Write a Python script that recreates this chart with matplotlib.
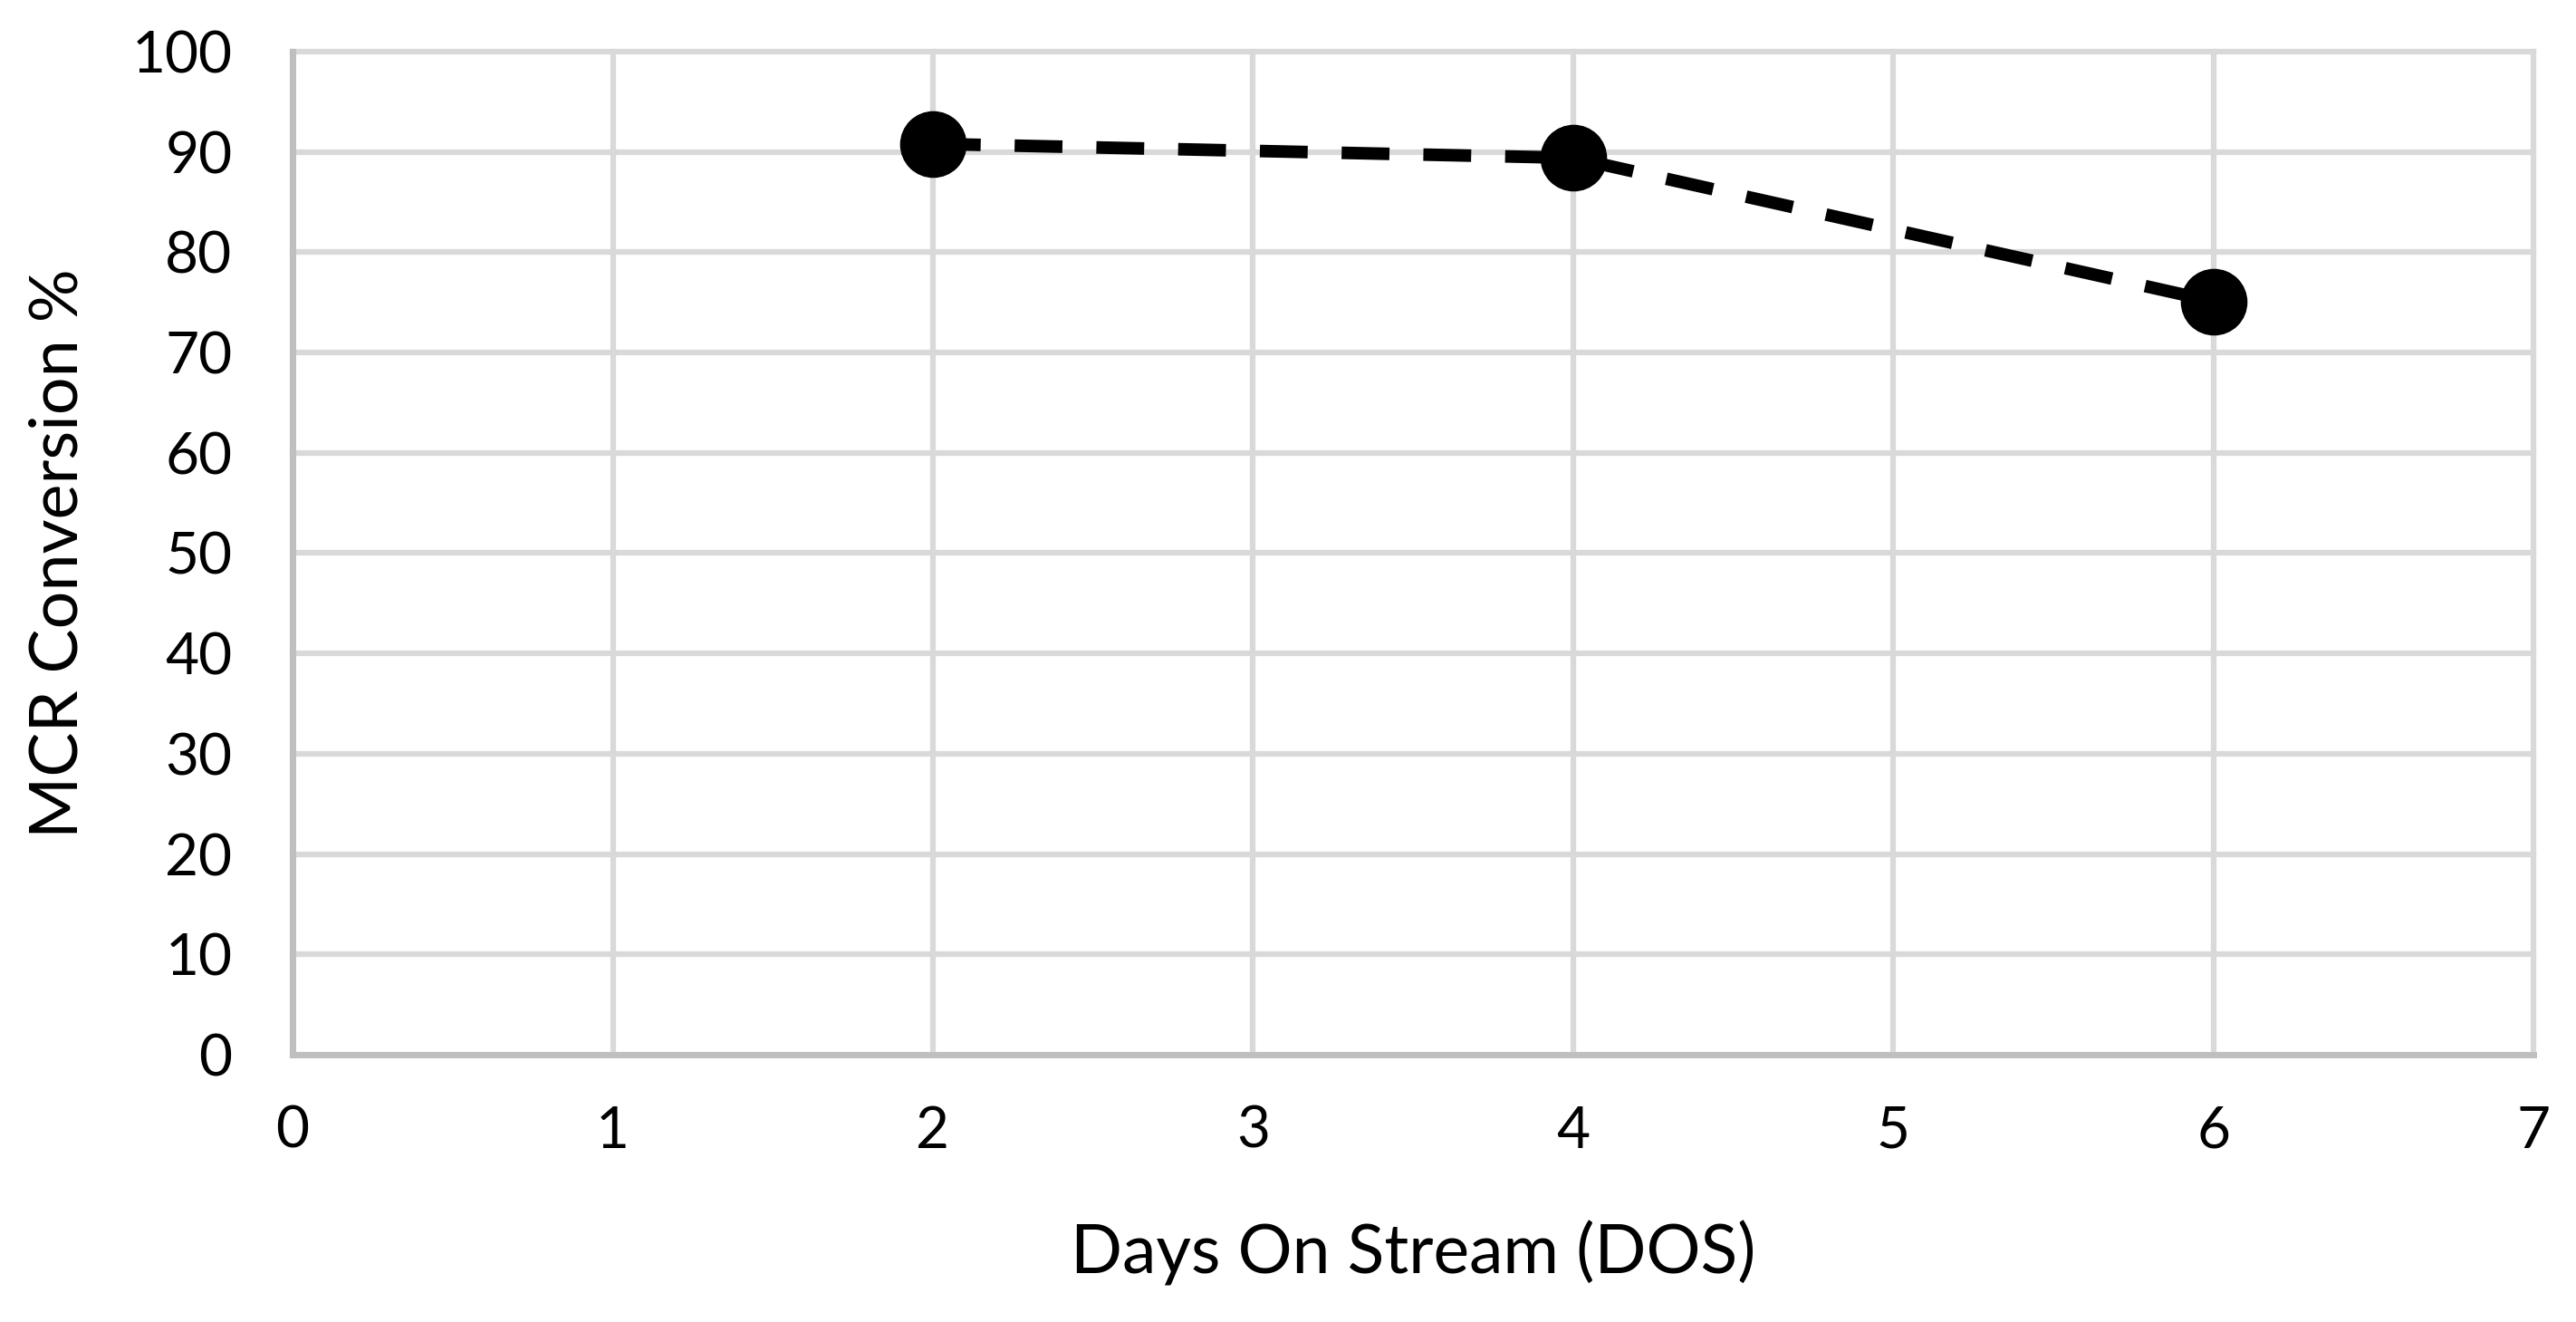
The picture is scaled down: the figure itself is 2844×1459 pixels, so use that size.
import matplotlib
matplotlib.use('Agg')
import matplotlib.pyplot as plt

# 資料
days = [2, 4, 6]
conversion = [90.8, 89.4, 75.1]
xticks = [0, 1, 2, 3, 4, 5, 6, 7]
yticks = [0, 10, 20, 30, 40, 50, 60, 70, 80, 90, 100]

plt.rcParams['font.family'] = ['Lato', 'DejaVu Sans']

fig = plt.figure(figsize=(28.44, 14.59), dpi=100)
ax = fig.add_axes([0.1136, 0.2022, 0.8699, 0.7588])

ax.plot(days, conversion, color='black', linewidth=10, linestyle=(0, (3.8, 2.7)),
        marker='o', markersize=52, zorder=3)

ax.set_xlim(0, 7)
ax.set_ylim(0, 100)
ax.set_xticks(xticks)
ax.set_yticks(yticks)
ax.tick_params(length=0, labelsize=46, pad=40)
ax.tick_params(axis='y', pad=48)

ax.grid(True, color='#d9d9d9', linewidth=4.5, clip_on=False)
ax.set_axisbelow(True)
for s in ['top', 'right']:
    ax.spines[s].set_visible(False)
for s in ['left', 'bottom']:
    ax.spines[s].set_color('#bfbfbf')
    ax.spines[s].set_linewidth(5)

ax.set_xlabel('Days On Stream (DOS)', fontsize=54, labelpad=50)
ax.set_ylabel('MCR Conversion %', fontsize=53, labelpad=34)

fig.savefig('out.png', dpi=100)
